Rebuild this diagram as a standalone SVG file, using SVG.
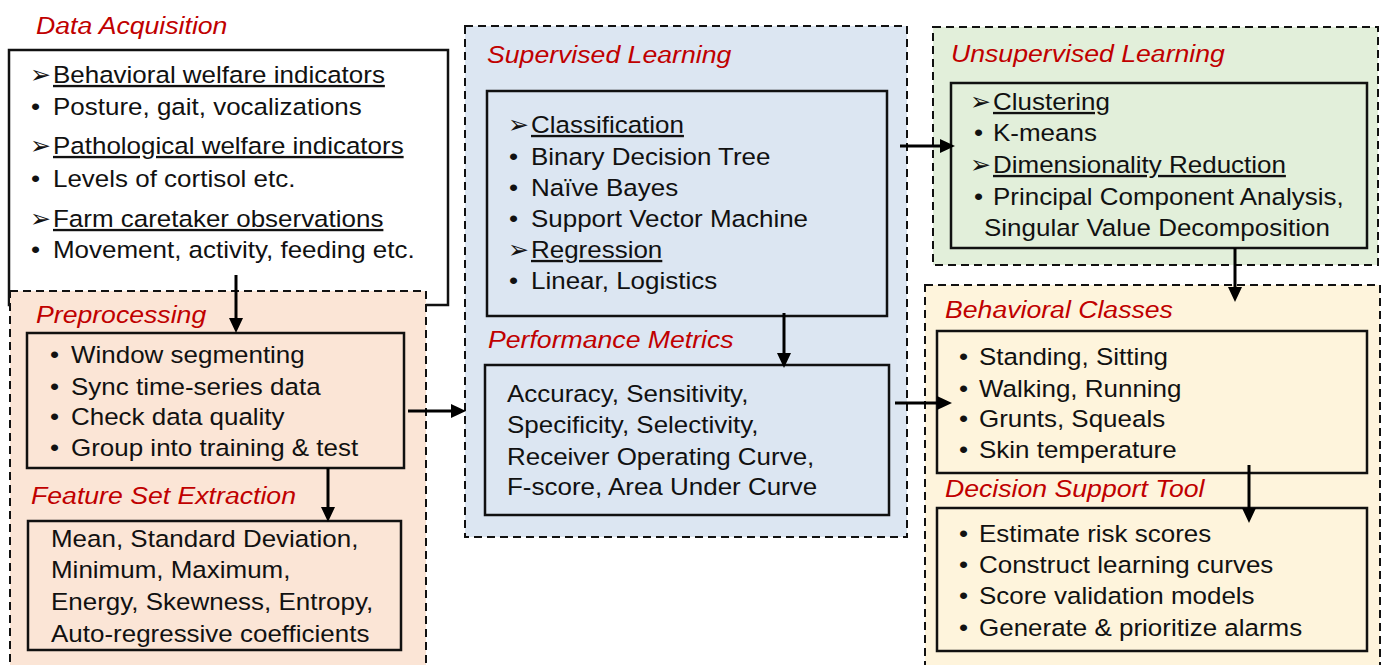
<svg xmlns="http://www.w3.org/2000/svg" width="1385" height="665" viewBox="0 0 1385 665">
<style>
.t{font-family:"Liberation Sans",Arial,sans-serif;font-size:23.3px;fill:#111}
.h{font-family:"Liberation Sans",Arial,sans-serif;font-size:24px;font-style:italic;fill:#c00000}
.u{text-decoration:underline}
.ab{font-family:"DejaVu Sans",sans-serif;font-size:25px;fill:#111}
.box{fill:none;stroke:#111;stroke-width:2.5}
.dash{stroke:#111;stroke-width:2;stroke-dasharray:8 5}
.c{stroke:#000;stroke-width:3;fill:none;marker-end:url(#ah)}
</style>
<defs>
<marker id="ah" markerUnits="userSpaceOnUse" markerWidth="15" markerHeight="14" refX="4" refY="7" orient="auto">
<path d="M0,0 L15,7 L0,14 z" fill="#000"/>
</marker>
</defs>
<rect width="1385" height="665" fill="#fff"/>

<g id="data-acquisition">
<text class="h" transform="translate(36 34) scale(1.11 1)">Data Acquisition</text>
<rect x="9" y="50" width="439" height="255" fill="#fff" stroke="#111" stroke-width="2.5"/>
<text class="ab" x="30" y="83">➢</text>
<text class="t u" transform="translate(53 83) scale(1.115 1)">Behavioral welfare indicators</text>
<text class="t" transform="translate(31 115) scale(1.115 1)">•</text>
<text class="t" transform="translate(53 115) scale(1.115 1)">Posture, gait, vocalizations</text>
<text class="ab" x="30" y="154">➢</text>
<text class="t u" transform="translate(53 154) scale(1.115 1)">Pathological welfare indicators</text>
<text class="t" transform="translate(31 187) scale(1.115 1)">•</text>
<text class="t" transform="translate(53 187) scale(1.115 1)">Levels of cortisol etc.</text>
<text class="ab" x="30" y="227">➢</text>
<text class="t u" transform="translate(53 227) scale(1.115 1)">Farm caretaker observations</text>
<text class="t" transform="translate(31 258) scale(1.115 1)">•</text>
<text class="t" transform="translate(53 258) scale(1.115 1)">Movement, activity,  feeding etc.</text>
</g>

<g id="preprocessing-region">
<rect x="10" y="291" width="416" height="400" fill="#fbe5d6" class="dash"/>
</g>

<g id="preprocessing">
<text class="h" transform="translate(36 323) scale(1.11 1)">Preprocessing</text>
<rect x="27" y="333" width="377" height="135" class="box"/>
<text class="t" transform="translate(50 363) scale(1.115 1)">•</text>
<text class="t" transform="translate(71 363) scale(1.115 1)">Window segmenting</text>
<text class="t" transform="translate(50 395) scale(1.115 1)">•</text>
<text class="t" transform="translate(71 395) scale(1.115 1)">Sync time-series data</text>
<text class="t" transform="translate(50 425) scale(1.115 1)">•</text>
<text class="t" transform="translate(71 425) scale(1.115 1)">Check data quality</text>
<text class="t" transform="translate(50 456) scale(1.115 1)">•</text>
<text class="t" transform="translate(71 456) scale(1.115 1)">Group into training &amp; test</text>
</g>

<g id="feature-extraction">
<text class="h" transform="translate(31 504) scale(1.11 1)">Feature Set Extraction</text>
<rect x="28" y="521" width="373" height="129" class="box"/>
<text class="t" transform="translate(51 547) scale(1.115 1)">Mean, Standard Deviation,</text>
<text class="t" transform="translate(51 578) scale(1.115 1)">Minimum, Maximum,</text>
<text class="t" transform="translate(51 610) scale(1.115 1)">Energy, Skewness, Entropy,</text>
<text class="t" transform="translate(51 642) scale(1.115 1)">Auto-regressive coefficients</text>
</g>

<g id="supervised-region">
<rect x="465" y="26" width="442" height="511" fill="#dce6f2" class="dash"/>
</g>

<g id="supervised-learning">
<text class="h" transform="translate(487 63) scale(1.11 1)">Supervised Learning</text>
<rect x="487" y="91" width="400" height="225" class="box"/>
<text class="ab" x="508" y="133">➢</text>
<text class="t u" transform="translate(531 133) scale(1.115 1)">Classification</text>
<text class="t" transform="translate(509 165) scale(1.115 1)">•</text>
<text class="t" transform="translate(531 165) scale(1.115 1)">Binary Decision Tree</text>
<text class="t" transform="translate(509 196) scale(1.115 1)">•</text>
<text class="t" transform="translate(531 196) scale(1.115 1)">Naïve Bayes</text>
<text class="t" transform="translate(509 227) scale(1.115 1)">•</text>
<text class="t" transform="translate(531 227) scale(1.115 1)">Support Vector Machine</text>
<text class="ab" x="508" y="258">➢</text>
<text class="t u" transform="translate(531 258) scale(1.115 1)">Regression</text>
<text class="t" transform="translate(509 289) scale(1.115 1)">•</text>
<text class="t" transform="translate(531 289) scale(1.115 1)">Linear, Logistics</text>
</g>

<g id="performance-metrics">
<text class="h" transform="translate(488 348) scale(1.11 1)">Performance Metrics</text>
<rect x="485" y="365" width="404" height="150" class="box"/>
<text class="t" transform="translate(507 402) scale(1.115 1)">Accuracy, Sensitivity,</text>
<text class="t" transform="translate(507 433) scale(1.115 1)">Specificity, Selectivity,</text>
<text class="t" transform="translate(507 465) scale(1.115 1)">Receiver Operating Curve,</text>
<text class="t" transform="translate(507 495) scale(1.115 1)">F-score, Area Under Curve</text>
</g>

<g id="unsupervised-learning">
<rect x="933" y="27" width="445" height="238" fill="#e2efda" class="dash"/>
<text class="h" transform="translate(951 62) scale(1.11 1)">Unsupervised Learning</text>
<rect x="951" y="83" width="416" height="165" class="box"/>
<text class="ab" x="970" y="110">➢</text>
<text class="t u" transform="translate(993 110) scale(1.115 1)">Clustering</text>
<text class="t" transform="translate(974 141) scale(1.115 1)">•</text>
<text class="t" transform="translate(993 141) scale(1.115 1)">K-means</text>
<text class="ab" x="970" y="173">➢</text>
<text class="t u" transform="translate(993 173) scale(1.115 1)">Dimensionality Reduction</text>
<text class="t" transform="translate(974 205) scale(1.115 1)">•</text>
<text class="t" transform="translate(993 205) scale(1.115 1)">Principal Component Analysis,</text>
<text class="t" transform="translate(984 236) scale(1.115 1)">Singular Value Decomposition</text>
</g>

<g id="output-region">
<rect x="925" y="285" width="455" height="400" fill="#fef4dc" class="dash"/>
</g>

<g id="behavioral-classes">
<text class="h" transform="translate(945 318) scale(1.11 1)">Behavioral Classes</text>
<rect x="937" y="331" width="430" height="142" class="box"/>
<text class="t" transform="translate(959 365) scale(1.115 1)">•</text>
<text class="t" transform="translate(979 365) scale(1.115 1)">Standing, Sitting</text>
<text class="t" transform="translate(959 397) scale(1.115 1)">•</text>
<text class="t" transform="translate(979 397) scale(1.115 1)">Walking, Running</text>
<text class="t" transform="translate(959 427) scale(1.115 1)">•</text>
<text class="t" transform="translate(979 427) scale(1.115 1)">Grunts, Squeals</text>
<text class="t" transform="translate(959 458) scale(1.115 1)">•</text>
<text class="t" transform="translate(979 458) scale(1.115 1)">Skin temperature</text>
</g>

<g id="decision-support-tool">
<text class="h" transform="translate(945 497) scale(1.11 1)">Decision Support Tool</text>
<rect x="937" y="508" width="430" height="143" class="box"/>
<text class="t" transform="translate(959 542) scale(1.115 1)">•</text>
<text class="t" transform="translate(979 542) scale(1.115 1)">Estimate risk scores</text>
<text class="t" transform="translate(959 573) scale(1.115 1)">•</text>
<text class="t" transform="translate(979 573) scale(1.115 1)">Construct learning curves</text>
<text class="t" transform="translate(959 604) scale(1.115 1)">•</text>
<text class="t" transform="translate(979 604) scale(1.115 1)">Score validation models</text>
<text class="t" transform="translate(959 636) scale(1.115 1)">•</text>
<text class="t" transform="translate(979 636) scale(1.115 1)">Generate &amp; prioritize alarms</text>
</g>

<g id="connectors">
<line class="c" x1="236" y1="275" x2="236" y2="322"/>
<line class="c" x1="328" y1="468" x2="328" y2="511"/>
<line class="c" x1="408" y1="411" x2="455" y2="411"/>
<line class="c" x1="784" y1="313" x2="784" y2="357"/>
<line class="c" x1="900" y1="146" x2="944" y2="146"/>
<line class="c" x1="895" y1="403" x2="941" y2="403"/>
<line class="c" x1="1235" y1="248" x2="1235" y2="291"/>
<line class="c" x1="1249" y1="465" x2="1249" y2="512"/>
</g>
</svg>
